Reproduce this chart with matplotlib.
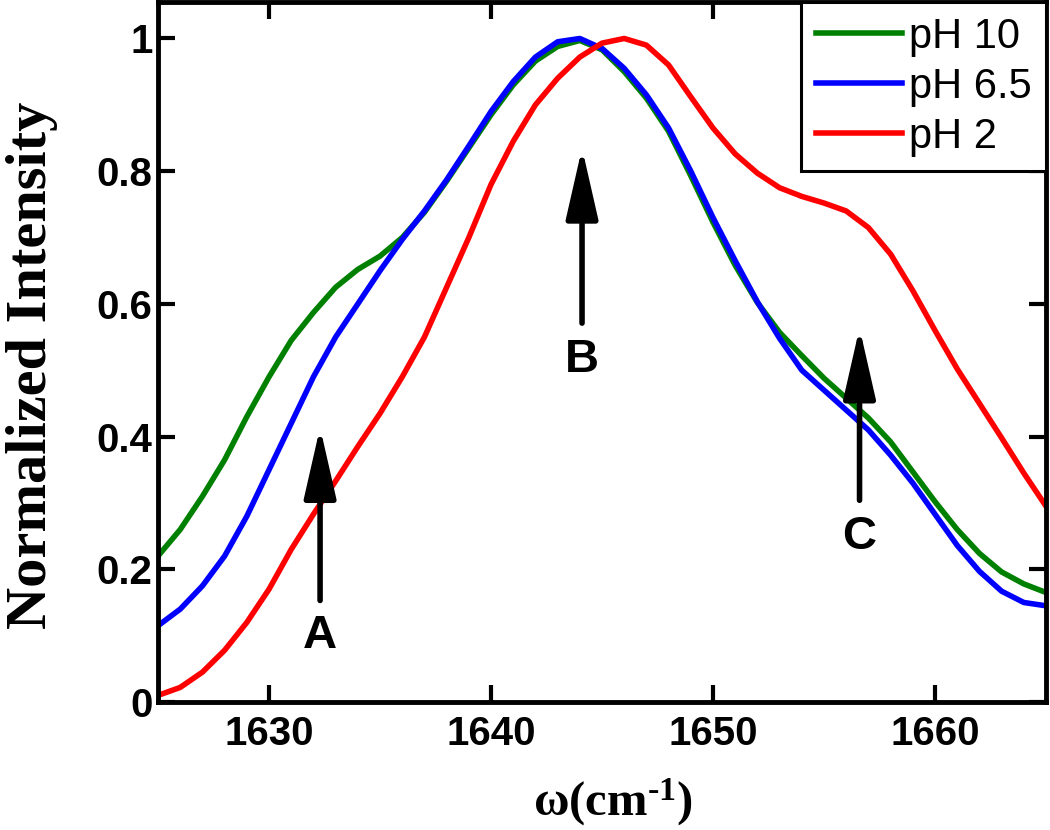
import matplotlib
matplotlib.use("Agg")
import matplotlib.pyplot as plt

# wavenumber axis (cm^-1), 1 cm^-1 steps
wavenumber = list(range(1625, 1666))

# normalized amide I intensities
ph10 = [0.22, 0.26, 0.31, 0.365, 0.43, 0.49, 0.545, 0.587, 0.625, 0.652,
        0.672, 0.7, 0.738, 0.785, 0.835, 0.885, 0.93, 0.966, 0.988, 0.997,
        0.983, 0.95, 0.91, 0.86, 0.793, 0.723, 0.658, 0.602, 0.557, 0.522,
        0.488, 0.458, 0.428, 0.392, 0.347, 0.302, 0.26, 0.224, 0.196, 0.178,
        0.165]
ph65 = [0.115, 0.14, 0.175, 0.22, 0.28, 0.35, 0.42, 0.49, 0.55, 0.6,
        0.65, 0.697, 0.74, 0.787, 0.838, 0.89, 0.935, 0.972, 0.995, 1.0,
        0.985, 0.955, 0.915, 0.865, 0.8, 0.73, 0.665, 0.603, 0.548, 0.5,
        0.47, 0.44, 0.41, 0.372, 0.33, 0.283, 0.236, 0.197, 0.167, 0.15,
        0.145]
ph2 = [0.01, 0.022, 0.045, 0.078, 0.12, 0.17, 0.23, 0.283, 0.333, 0.385,
       0.435, 0.49, 0.55, 0.625, 0.7, 0.78, 0.845, 0.9, 0.94, 0.972,
       0.993, 1.0, 0.99, 0.96, 0.912, 0.865, 0.826, 0.797, 0.775, 0.762,
       0.752, 0.74, 0.715, 0.675, 0.62, 0.56, 0.502, 0.45, 0.398, 0.345,
       0.295]

series_labels = ["pH 10", "pH 6.5", "pH 2"]

# arrows A, B, C (x position, tip, tail, letter height)
arrow_names = ["A", "B", "C"]
arrow_x = [1632.3, 1644.1, 1656.6]
arrow_tip = [0.414, 0.835, 0.564]
arrow_tail = [0.153, 0.571, 0.304]
arrow_text_y = [0.099, 0.516, 0.248]

xticks = [1630, 1640, 1650, 1660]
yticks = [0, 0.2, 0.4, 0.6, 0.8, 1.0]
ytick_labels = ["0", "0.2", "0.4", "0.6", "0.8", "1"]

plt.rcParams["mathtext.fontset"] = "custom"
plt.rcParams["mathtext.rm"] = "Liberation Serif:bold"
plt.rcParams["mathtext.bf"] = "Liberation Serif:bold"
plt.rcParams["mathtext.it"] = "Liberation Serif:bold:italic"

fig = plt.figure(figsize=(10.5, 8.3), dpi=100)
ax = fig.add_axes([0.1505, 0.1542, 0.8457, 0.8434])

ax.plot(wavenumber, ph10, color=(0, 0.5, 0), lw=4, label=series_labels[0])
ax.plot(wavenumber, ph65, color="blue", lw=4, label=series_labels[1])
ax.plot(wavenumber, ph2, color="red", lw=4, label=series_labels[2])

# annotation arrows
for name, x, tip, tail, ty in zip(arrow_names, arrow_x, arrow_tip, arrow_tail, arrow_text_y):
    ax.annotate("", xy=(x, tip), xytext=(x, tail),
                arrowprops=dict(arrowstyle="-|>,head_length=1.45,head_width=0.33",
                                mutation_scale=30, lw=4, color="black",
                                shrinkA=0, shrinkB=0, capstyle="round"),
                zorder=5)
    ax.text(x, ty, name, ha="center", va="center", fontsize=34,
            fontweight="bold", family="Liberation Sans", zorder=5)

ax.set_xlim(1625, 1665)
ax.set_ylim(0, 1.055)
ax.set_xticks(xticks)
ax.set_yticks(yticks)
ax.set_yticklabels(ytick_labels)

for lab in ax.get_xticklabels() + ax.get_yticklabels():
    lab.set_family("Liberation Sans")
    lab.set_fontweight("bold")
    lab.set_fontsize(29)

ax.tick_params(axis="both", direction="in", top=True, right=True,
               length=12, width=3)
ax.tick_params(axis="x", pad=9)
ax.tick_params(axis="y", pad=4)
for sp in ax.spines.values():
    sp.set_linewidth(3.5)

leg = ax.legend(loc="upper right", borderaxespad=0, fancybox=False,
                prop={"family": "Liberation Sans", "size": 30},
                handlelength=2.08, handletextpad=0.15, labelspacing=0.24,
                borderpad=0.35, framealpha=1)
leg.get_frame().set_edgecolor("black")
leg.get_frame().set_linewidth(2.2)

fig.text(32 / 1050, 0.56, "Normalized Intensity", rotation=90,
         ha="center", va="center", fontsize=42, fontweight="bold",
         family="Liberation Serif")
fig.text(613 / 1050, 0.034, "ω(cm$^{\\text{-}1}$)", ha="center", va="center",
         fontsize=35, fontweight="bold", family="Liberation Serif")

plt.savefig("out.png", dpi=100)
plt.close()
